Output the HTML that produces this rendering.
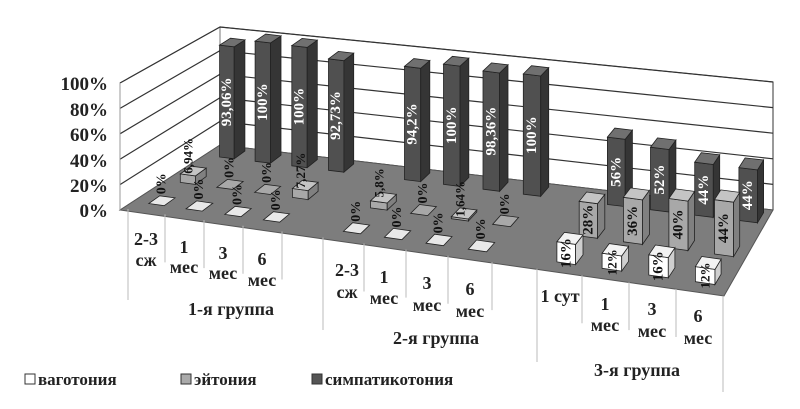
<!DOCTYPE html>
<html><head><meta charset="utf-8"><style>
html,body{margin:0;padding:0;background:#fff;}
svg{display:block;font-family:"Liberation Serif",serif;font-weight:bold;}
</style></head><body>
<svg id="s" width="800" height="409" viewBox="0 0 800 409" xmlns="http://www.w3.org/2000/svg">
<rect width="800" height="409" fill="#fff"/>
<polygon points="220,27 773,82 773,210 220,145" fill="#fff" stroke="#333" stroke-width="1"/>
<polygon points="120,83 220,27 220,145 120,210" fill="#fff" stroke="#777" stroke-width="1"/>
<g stroke="#333" stroke-width="1.2" fill="none">
<polyline points="120,108.4 220,50.6 773,107.6"/>
<polyline points="120,133.8 220,74.2 773,133.2"/>
<polyline points="120,159.2 220,97.8 773,158.8"/>
<polyline points="120,184.6 220,121.4 773,184.4"/>
<polyline points="120,83 220,27 773,82"/>
</g>
<polygon points="120,210 220,145 773,210 724,296" fill="#7d7d7d" stroke="#555"/>
<line x1="120" y1="83" x2="120" y2="210" stroke="#999"/>
<g font-size="19" text-anchor="end" fill="#222">
<text x="108" y="90">100%</text><text x="108" y="116">80%</text><text x="108" y="141">60%</text>
<text x="108" y="167">40%</text><text x="108" y="192">20%</text><text x="108" y="217">0%</text>
</g>
<g id="div" stroke="#bbb" stroke-width="1"></g>
<g id="bars"></g>
<g font-size="18" text-anchor="middle" fill="#222">
<text x="146" y="245">2-3</text><text x="146" y="266">сж</text>
<text x="184" y="253">1</text><text x="184" y="273">мес</text>
<text x="223" y="259">3</text><text x="223" y="279">мес</text>
<text x="262" y="265">6</text><text x="262" y="286">мес</text>
<text x="347" y="276">2-3</text><text x="347" y="298">сж</text>
<text x="384" y="283">1</text><text x="384" y="304">мес</text>
<text x="427" y="289">3</text><text x="427" y="311">мес</text>
<text x="470" y="295">6</text><text x="470" y="317">мес</text>
<text x="560" y="302">1 сут</text>
<text x="605" y="310">1</text><text x="605" y="331">мес</text>
<text x="652" y="315">3</text><text x="652" y="337">мес</text>
<text x="698" y="322">6</text><text x="698" y="344">мес</text>
<text x="231" y="315">1-я группа</text>
<text x="436" y="344">2-я группа</text>
<text x="637" y="376">3-я группа</text>
</g>
<g font-size="17" fill="#222">
<rect x="25" y="374" width="10" height="10" fill="#fff" stroke="#333"/><text x="38" y="385">ваготония</text>
<rect x="181" y="374" width="10" height="10" fill="#aaa" stroke="#333"/><text x="194" y="385">эйтония</text>
<rect x="312" y="374" width="10" height="10" fill="#555" stroke="#333"/><text x="325" y="385">симпатикотония</text>
</g>
</svg>
<script>
var FB=[128,165,204,243,282,323,364,406,448,492,537,582,629,676,723];
function fxOf(u){var i=Math.floor(u);if(i>13)i=13;if(i<0)i=0;return FB[i]+(FB[i+1]-FB[i])*(u-i);}
function P(u,v,h){var fx=fxOf(u),fy=209+(fx-128)*0.146;var bx=220+(fx-128)*553/595,by=145+(bx-220)*65/553;
var x=fx+(bx-fx)*v,y=fy+(by-fy)*v;y-=h*(127-8*v);return [x,y];}
var NS="http://www.w3.org/2000/svg";
function poly(g,pts,fill){var p=document.createElementNS(NS,"polygon");p.setAttribute("points",pts.map(function(a){return a[0].toFixed(1)+","+a[1].toFixed(1)}).join(" "));p.setAttribute("fill",fill);p.setAttribute("stroke","#222");p.setAttribute("stroke-width","0.8");g.appendChild(p);}
function txt(g,x,y,s,fill,size){var t=document.createElementNS(NS,"text");t.setAttribute("transform","translate("+x.toFixed(1)+","+y.toFixed(1)+") rotate(-90)");t.setAttribute("text-anchor","middle");t.setAttribute("font-size",size);t.setAttribute("fill",fill);t.setAttribute("dominant-baseline","central");t.textContent=s;g.appendChild(t);}
var dv=document.getElementById("div");
var longs={128:300,323:330,537:362,723:392};
FB.forEach(function(x){var y=209+(x-128)*0.146;var l=document.createElementNS(NS,"line");l.setAttribute("x1",x);l.setAttribute("x2",x);l.setAttribute("y1",y);l.setAttribute("y2",longs[x]||y+48);dv.appendChild(l);});
var cats=[0,1,2,3,5,6,7,8,10,11,12,13];
var symp=[["93,06%",93.06],["100%",100],["100%",100],["92,73%",92.73],["94,2%",94.2],["100%",100],["98,36%",98.36],["100%",100],["56%",56],["52%",52],["44%",44],["44%",44]];
var eut=[["6,94%",6.94],["0%",0],["0%",0],["7,27%",7.27],["5,8%",5.8],["0%",0],["1,64%",1.64],["0%",0],["28%",28],["36%",36],["40%",40],["44%",44]];
var vag=[["0%",0],["0%",0],["0%",0],["0%",0],["0%",0],["0%",0],["0%",0],["0%",0],["16%",16],["12%",12],["16%",16],["12%",12]];
var g=document.getElementById("bars");
function row(data,vr,du,cf,ct,cs,tc){for(var k=0;k<12;k++){var c=cats[k]+du,h=data[k][1]/100;var u0=c+0.29,u1=c+0.71,v0=vr-0.06,v1=vr+0.06;
if(h<0.005){poly(g,[P(u0,v0,0),P(u1,v0,0),P(u1,v1,0),P(u0,v1,0)],cf==="#fff"?"#e8e8e8":cf);
var q=P(c+0.5,vr,0);txt(g,q[0],q[1]-17,data[k][0],"#111",14);continue;}
poly(g,[P(u0,v0,0),P(u1,v0,0),P(u1,v0,h),P(u0,v0,h)],cf);
poly(g,[P(u1,v0,0),P(u1,v1,0),P(u1,v1,h),P(u1,v0,h)],cs);
poly(g,[P(u0,v0,h),P(u1,v0,h),P(u1,v1,h),P(u0,v1,h)],ct);
var m=P(c+0.5,v0,h/2);var size=h>0.15?15:13;
if(h<0.1){m=P(c+0.5,v0,h);txt(g,m[0],m[1]-19,data[k][0],"#111",size);}else txt(g,m[0],m[1],data[k][0],tc,size);}}
row(symp,0.9,0.12,"#505050","#707070","#353535","#fff");
row(eut,0.5,0.04,"#a8a8a8","#c4c4c4","#808080","#111");
row(vag,0.17,0,"#fff","#f2f2f2","#cfcfcf","#111");
</script>
</body></html>
